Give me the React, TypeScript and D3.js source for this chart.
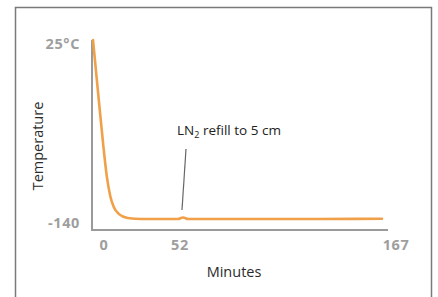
import React, {useEffect, useRef} from "react";
import * as d3 from "d3";

// readings
const minutes = [0, 2, 4, 6, 8, 10, 12, 15, 20, 28, 40, 49, 52, 55, 70, 100, 130, 167];
const temps = [25, -8, -41, -73, -101, -119, -129, -135.5, -139, -140, -140, -140, -138.6, -140, -140, -140, -140, -139.8];

const xTicks = [0, 52, 167];
const yTicks = [25, -140];
const yTickLabels = ["25°C", "-140"];

const refillAt = 52;
const refillText = "refill to 5 cm";

const W = 438;
const H = 297;

const App = () => {
    const ref = useRef<SVGSVGElement>(null);

    useEffect(() => {
        const svg = d3.select(ref.current);
        svg.selectAll("*").remove();

        const x = d3.scaleLinear().domain([0, 167]).range([93, 382]);
        const y = d3.scaleLinear().domain([-140, 25]).range([219, 40]);
        const font = "'Open Sans', 'Noto Sans', sans-serif";

        // outer frame (bottom cut off)
        svg.append("path")
            .attr("d", `M15.5,${H + 2}V7.5H431.5V${H + 2}`)
            .attr("fill", "none")
            .attr("stroke", "#7a7a7a")
            .attr("stroke-width", 1.5);

        // axes
        svg.append("line")
            .attr("x1", 92).attr("x2", 92)
            .attr("y1", 40).attr("y2", 230.5)
            .attr("stroke", "#9a9a9a").attr("stroke-width", 2);
        svg.append("line")
            .attr("x1", 91).attr("x2", 388)
            .attr("y1", 230).attr("y2", 230)
            .attr("stroke", "#9a9a9a").attr("stroke-width", 2);

        // tick labels
        svg.selectAll(".ytick")
            .data(yTicks)
            .join("text")
            .attr("x", 80)
            .attr("y", d => y(d) + 5)
            .attr("text-anchor", "end")
            .attr("dominant-baseline", "middle")
            .attr("font-family", font)
            .attr("font-weight", "bold")
            .attr("font-size", 14.5)
            .attr("letter-spacing", 0.6)
            .attr("fill", "#9e9e9e")
            .text((d, i) => yTickLabels[i]);

        const xdx = [11, -3, 14];
        svg.selectAll(".xtick")
            .data(xTicks)
            .join("text")
            .attr("x", (d, i) => x(d) + xdx[i])
            .attr("y", 250)
            .attr("text-anchor", "middle")
            .attr("font-family", font)
            .attr("font-weight", "bold")
            .attr("font-size", 14.5)
            .attr("letter-spacing", 0.6)
            .attr("fill", "#9e9e9e")
            .text(d => d);

        // axis titles
        svg.append("text")
            .attr("x", 234)
            .attr("y", 277)
            .attr("text-anchor", "middle")
            .attr("font-family", font)
            .attr("font-size", 14.5)
            .attr("fill", "#2b2b2b")
            .text("Minutes");
        svg.append("text")
            .attr("transform", "translate(43,146) rotate(-90)")
            .attr("text-anchor", "middle")
            .attr("font-family", font)
            .attr("font-size", 14.5)
            .attr("fill", "#2b2b2b")
            .text("Temperature");

        // curve
        const line = d3.line<number>()
            .x((d, i) => x(minutes[i]))
            .y(d => y(d))
            .curve(d3.curveMonotoneX);
        svg.append("path")
            .attr("d", line(temps))
            .attr("fill", "none")
            .attr("stroke", "#f0a048")
            .attr("stroke-width", 2.6)
            .attr("stroke-linecap", "round");

        // annotation
        svg.append("line")
            .attr("x1", 186).attr("y1", 149)
            .attr("x2", x(refillAt) - 1).attr("y2", 210)
            .attr("stroke", "#666").attr("stroke-width", 1.2);
        const t = svg.append("text")
            .attr("x", 177)
            .attr("y", 135)
            .attr("font-family", font)
            .attr("font-size", 13.5)
            .attr("fill", "#222");
        t.append("tspan").text("LN");
        t.append("tspan").attr("font-size", 9).attr("dy", 3).text("2");
        t.append("tspan").attr("dy", -3).text(" " + refillText);
    }, []);

    return (
        <svg ref={ref} width={W} height={H}
             style={{position: "fixed", left: 0, top: 0, background: "#fff"}}/>
    );
};

export default App;
